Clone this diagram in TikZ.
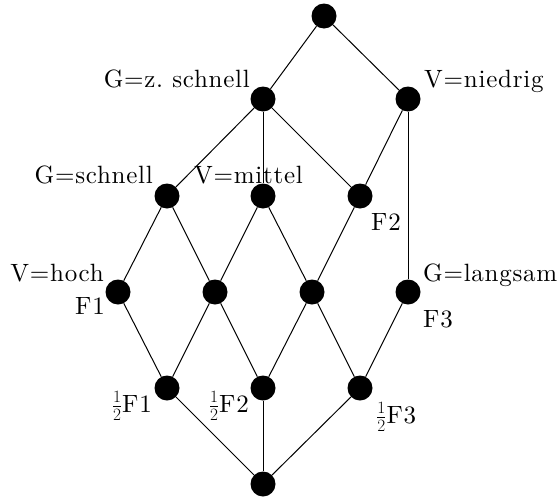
\documentclass[tikz,border=0pt]{standalone}
\usepackage{fontspec}
\newfontfamily\lmten[LetterSpace=3]{lmroman10-regular.otf}
\begin{document}
\begin{tikzpicture}[x=1pt,y=-1pt,
  dot/.style={circle,fill=black,inner sep=0pt,minimum size=25pt},
  lbl/.style={inner sep=0pt,font=\lmten\fontsize{25}{29}\selectfont},
  edge/.style={line width=1pt}]
\useasboundingbox (0,0) rectangle (560,501);
% nodes
\node[dot] (top) at (324,16) {};
\node[dot] (gz) at (263,99) {};
\node[dot] (vn) at (408,99) {};
\node[dot] (gs) at (167,196) {};
\node[dot] (vm) at (263,196) {};
\node[dot] (f2) at (360,196) {};
\node[dot] (vh) at (118,292) {};
\node[dot] (m1) at (215,292) {};
\node[dot] (m2) at (312,292) {};
\node[dot] (gl) at (408,292) {};
\node[dot] (h1) at (167,388) {};
\node[dot] (h2) at (263,388) {};
\node[dot] (h3) at (360,388) {};
\node[dot] (bot) at (263,484) {};
% edges
\draw[edge] (top) -- (gz);
\draw[edge] (top) -- (vn);
\draw[edge] (gz) -- (gs);
\draw[edge] (gz) -- (vm);
\draw[edge] (gz) -- (f2);
\draw[edge] (vn) -- (f2);
\draw[edge] (vn) -- (gl);
\draw[edge] (gs) -- (vh);
\draw[edge] (gs) -- (m1);
\draw[edge] (vm) -- (m1);
\draw[edge] (vm) -- (m2);
\draw[edge] (f2) -- (m2);
\draw[edge] (vh) -- (h1);
\draw[edge] (m1) -- (h1);
\draw[edge] (m1) -- (h2);
\draw[edge] (m2) -- (h2);
\draw[edge] (m2) -- (h3);
\draw[edge] (gl) -- (h3);
\draw[edge] (h1) -- (bot);
\draw[edge] (h2) -- (bot);
\draw[edge] (h3) -- (bot);
% labels
\node[lbl,anchor=base east] (lgz) at (250,87) {G=z.\ schnell};
\node[lbl,anchor=base west] (lvn) at (424,87) {V=niedrig};
\node[lbl,anchor=base east] (lgs) at (153,183) {G=schnell};
\node[lbl,anchor=base west] (lvm) at (194,183) {V=mittel};
\node[lbl,anchor=base west] (lf2) at (371,230) {F2};
\node[lbl,anchor=base east] (lvh) at (104,281) {V=hoch};
\node[lbl,anchor=base east] (lf1) at (105,314) {F1};
\node[lbl,anchor=base west] (lgl) at (423,281) {G=langsam};
\node[lbl,anchor=base west] (lf3) at (423,327) {F3};
\node[lbl,anchor=base east] (lh1) at (152,412) {$\frac{1}{2}$F1};
\node[lbl,anchor=base east] (lh2) at (249,412) {$\frac{1}{2}$F2};
\node[lbl,anchor=base west] (lh3) at (376,423) {$\frac{1}{2}$F3};
\end{tikzpicture}
\end{document}
